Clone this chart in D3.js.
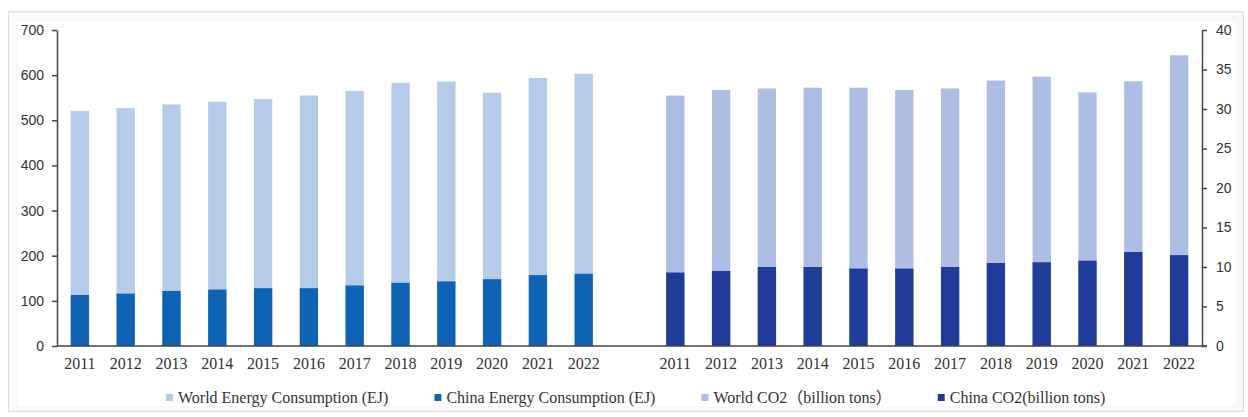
<!DOCTYPE html>
<html>
<head>
<meta charset="utf-8">
<script src="https://cdn.jsdelivr.net/npm/d3@7"></script>
<style>
  body { margin: 0; background: #fff; }
  svg text { fill: #333; }
</style>
</head>
<body>
<svg id="chart" width="1248" height="417"></svg>
<script>
// chart data
var years = ['2011', '2012', '2013', '2014', '2015', '2016', '2017', '2018', '2019', '2020', '2021', '2022'];
var worldEnergy = [521, 527, 535, 541, 547, 555, 565, 583, 586, 561, 594, 603];
var chinaEnergy = [113, 116, 122, 125, 128, 128, 134, 140, 143, 148, 157, 160];
var worldCO2 = [31.7, 32.4, 32.6, 32.7, 32.7, 32.4, 32.6, 33.6, 34.1, 32.1, 33.5, 36.8];
var chinaCO2 = [9.3, 9.5, 10.0, 10.0, 9.8, 9.8, 10.0, 10.5, 10.6, 10.8, 11.9, 11.5];
var leftTicks = [0, 100, 200, 300, 400, 500, 600, 700];
var rightTicks = [0, 5, 10, 15, 20, 25, 30, 35, 40];
var legendLabels = ['World Energy Consumption (EJ)', 'China Energy Consumption (EJ)',
    'World CO2（billion tons）', 'China CO2(billion tons)'];
var colors = ['#b4cce9', '#0e63b4', '#adbde4', '#1f3d98'];

var svg = d3.select('#chart');
var plotLeft = 57, plotRight = 1202, plotTop = 30, base = 346;

// frame
svg.append('rect')
    .attr('x', 8.5).attr('y', 11.5).attr('width', 1235).attr('height', 400)
    .attr('fill', '#f8f8f8').attr('stroke', '#dcdcdc');
svg.append('rect')
    .attr('x', 18).attr('y', 22).attr('width', 1218).attr('height', 384)
    .attr('fill', '#fff');

// one band axis, energy years + an empty slot + CO2 years
var slots = years.map(function (y) { return 'E' + y; })
    .concat(['gap'])
    .concat(years.map(function (y) { return 'C' + y; }));

var x = d3.scaleBand().domain(slots).range([plotLeft, plotRight])
    .paddingInner(0.6).paddingOuter(0.3);
var yL = d3.scaleLinear().domain([0, 700]).range([base, plotTop]);
var yR = d3.scaleLinear().domain([0, 40]).range([base, plotTop]);

function drawBars(prefix, values, scale, color) {
    svg.append('g').selectAll('rect')
        .data(values).enter()
        .append('rect')
        .attr('x', function (d, i) { return x(prefix + years[i]); })
        .attr('width', x.bandwidth())
        .attr('y', function (d) { return scale(d); })
        .attr('height', function (d) { return base - scale(d); })
        .attr('fill', color);
}

drawBars('E', worldEnergy, yL, colors[0]);
drawBars('E', chinaEnergy, yL, colors[1]);
drawBars('C', worldCO2, yR, colors[2]);
drawBars('C', chinaCO2, yR, colors[3]);

// axes
var axL = svg.append('g')
    .attr('transform', 'translate(' + plotLeft + ',0)')
    .call(d3.axisLeft(yL).tickValues(leftTicks).tickSize(5).tickSizeOuter(0).tickPadding(8));
var axR = svg.append('g')
    .attr('transform', 'translate(' + plotRight + ',0)')
    .call(d3.axisRight(yR).tickValues(rightTicks).tickSize(5).tickSizeOuter(0).tickPadding(9));
[axL, axR].forEach(function (ax) {
    ax.selectAll('path, line').attr('stroke', '#444').attr('stroke-width', 1.5);
    ax.selectAll('text')
        .style('font-family', '"Liberation Sans", Arial, sans-serif')
        .style('font-size', '14px')
        .attr('fill', '#333');
});

var axX = svg.append('g')
    .attr('transform', 'translate(0,' + base + ')')
    .call(d3.axisBottom(x).tickSize(0).tickPadding(12)
        .tickFormat(function (d) { return d == 'gap' ? '' : d.slice(1); }));
axX.select('path').attr('d', 'M' + plotLeft + ',0H' + (plotRight + 5))
    .attr('stroke', '#444').attr('stroke-width', 1.5);
axX.selectAll('text')
    .style('font-family', '"Liberation Serif", "Times New Roman", serif')
    .style('font-size', '16px')
    .attr('fill', '#333');

// legend, laid out in a row
var legend = svg.append('g').attr('transform', 'translate(166,398)');
var lx = 0;
legendLabels.forEach(function (label, i) {
    var item = legend.append('g').attr('transform', 'translate(' + lx + ',0)');
    item.append('rect')
        .attr('x', 0).attr('y', -4).attr('width', 7).attr('height', 7)
        .attr('fill', colors[i]);
    var t = item.append('text')
        .attr('x', 12).attr('y', 5)
        .style('font-family', '"Liberation Serif", "Times New Roman", "Noto Sans CJK SC", serif')
        .style('font-size', '16px')
        .text(label);
    lx += 12 + t.node().getComputedTextLength() + 46;
});
</script>
</body>
</html>
